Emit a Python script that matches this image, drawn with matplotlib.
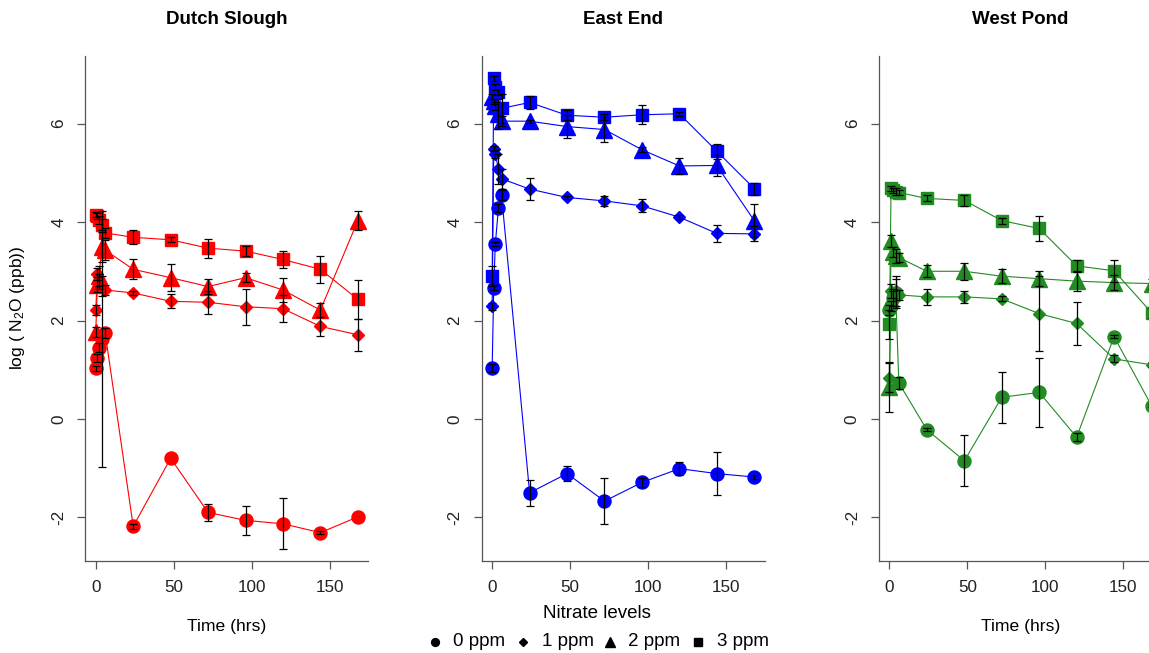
import matplotlib
matplotlib.use("Agg")
import matplotlib.pyplot as plt
from matplotlib.lines import Line2D
import numpy as np

plt.rcParams['font.family'] = ['Liberation Sans', 'DejaVu Sans']
plt.rcParams['mathtext.default'] = 'regular'

# sampling times (hrs)
times = [0, 1, 2, 4, 6, 24, 48, 72, 96, 120, 144, 168]

sites = ["Dutch Slough", "East End", "West Pond"]
site_colors = ["#FF0000", "#0000FF", "#228B22"]
levels = ["0 ppm", "1 ppm", "2 ppm", "3 ppm"]

# log(N2O) means, one list per nitrate level, per site
ds_0 = [1.03, 1.24, 1.45, 1.62, 1.75, -2.18, -0.80, -1.90, -2.06, -2.13, -2.31, -1.99]
ds_1 = [2.21, 2.94, 2.80, 2.70, 2.62, 2.56, 2.39, 2.37, 2.28, 2.24, 1.88, 1.71]
ds_2 = [1.76, 2.73, 2.90, 3.49, 3.43, 3.04, 2.87, 2.69, 2.87, 2.62, 2.21, 4.03]
ds_3 = [4.15, 4.12, 4.05, 3.95, 3.78, 3.69, 3.64, 3.47, 3.41, 3.24, 3.04, 2.43]

ee_0 = [1.04, 2.67, 3.55, 4.28, 4.55, -1.50, -1.11, -1.67, -1.29, -1.01, -1.11, -1.18]
ee_1 = [2.29, 5.49, 5.39, 5.08, 4.88, 4.67, 4.50, 4.43, 4.33, 4.10, 3.77, 3.76]
ee_2 = [6.55, 6.45, 6.35, 6.20, 6.05, 6.05, 5.94, 5.88, 5.47, 5.14, 5.15, 4.03]
ee_3 = [2.90, 6.92, 6.75, 6.65, 6.31, 6.43, 6.17, 6.13, 6.18, 6.20, 5.44, 4.68]

wp_0 = [2.22, 2.30, 2.45, 2.55, 0.73, -0.22, -0.85, 0.44, 0.54, -0.37, 1.67, 0.27]
wp_1 = [0.84, 2.60, 2.55, 2.60, 2.52, 2.48, 2.48, 2.44, 2.14, 1.94, 1.22, 1.10]
wp_2 = [0.65, 3.62, 3.40, 3.31, 3.28, 3.00, 3.00, 2.90, 2.85, 2.80, 2.77, 2.75]
wp_3 = [1.92, 4.69, 4.65, 4.62, 4.60, 4.48, 4.44, 4.03, 3.87, 3.11, 3.01, 2.16]

# standard errors
ds_0_se = [0.05, 0.08, 0.10, 2.60, 0.10, 0.05, 0.00, 0.17, 0.29, 0.52, 0.03, 0.00]
ds_1_se = [0.10, 0.12, 0.15, 0.20, 0.10, 0.04, 0.14, 0.23, 0.37, 0.27, 0.20, 0.32]
ds_2_se = [0.10, 0.15, 0.20, 0.30, 0.20, 0.20, 0.28, 0.15, 0.09, 0.24, 0.14, 0.19]
ds_3_se = [0.05, 0.06, 0.08, 0.12, 0.10, 0.14, 0.05, 0.19, 0.10, 0.18, 0.28, 0.40]

ee_0_se = [0.08, 0.06, 0.04, 0.08, 0.10, 0.26, 0.15, 0.47, 0.10, 0.13, 0.44, 0.04]
ee_1_se = [0.07, 0.05, 0.08, 0.30, 0.20, 0.22, 0.03, 0.10, 0.13, 0.04, 0.18, 0.15]
ee_2_se = [0.05, 0.05, 0.08, 0.30, 0.10, 0.03, 0.23, 0.26, 0.05, 0.17, 0.21, 0.33]
ee_3_se = [0.20, 0.05, 0.06, 0.06, 0.30, 0.14, 0.10, 0.06, 0.19, 0.04, 0.15, 0.12]

wp_0_se = [0.10, 0.10, 0.15, 0.30, 0.12, 0.03, 0.52, 0.52, 0.70, 0.08, 0.03, 0.03]
wp_1_se = [0.30, 0.15, 0.10, 0.30, 0.10, 0.17, 0.12, 0.05, 0.76, 0.44, 0.07, 0.05]
wp_2_se = [0.50, 0.12, 0.10, 0.15, 0.10, 0.12, 0.17, 0.14, 0.15, 0.21, 0.15, 0.10]
wp_3_se = [0.30, 0.05, 0.05, 0.08, 0.05, 0.06, 0.12, 0.06, 0.25, 0.12, 0.22, 0.10]

site_means = [[ds_0, ds_1, ds_2, ds_3], [ee_0, ee_1, ee_2, ee_3], [wp_0, wp_1, wp_2, wp_3]]
site_ses = [[ds_0_se, ds_1_se, ds_2_se, ds_3_se], [ee_0_se, ee_1_se, ee_2_se, ee_3_se],
            [wp_0_se, wp_1_se, wp_2_se, wp_3_se]]

# marker per nitrate level: (marker, size)
level_markers = [("o", 9.4), ("D", 6.2), ("^", 11.0), ("s", 9.2)]

W, H = 1149, 653
fig = plt.figure(figsize=(W / 100, H / 100), dpi=100)
fig.patch.set_facecolor("white")

ax_lefts = [85.3, 481.7, 879.0]
ax_w, ax_top, ax_bot = 283.0, 55.7, 560.7
axis_grey = "#555555"

for i, site in enumerate(sites):
    ax = fig.add_axes([ax_lefts[i] / W, (H - ax_bot) / H, ax_w / W, (ax_bot - ax_top) / H])
    col = site_colors[i]
    t = np.array(times, dtype=float)
    for k, (mk, ms) in enumerate(level_markers):
        y = np.array(site_means[i][k])
        ax.plot(t, y, color=col, lw=0.8, marker=mk, ms=ms, mec=col, mfc=col, zorder=2)
    for k in range(4):
        y = np.array(site_means[i][k])
        se = np.array(site_ses[i][k])
        m = se > 0
        ax.errorbar(t[m], y[m], yerr=se[m], fmt="none", ecolor="black", elinewidth=0.9,
                    capsize=2.6, capthick=0.9, zorder=4)

    # R style axis ranges (data range + 4%)
    ax.set_xlim(-168 * 0.04, 168 * 1.04)
    ax.set_ylim(-2.5 - 9.5 * 0.04, 7 + 9.5 * 0.04)
    ax.set_xticks([0, 50, 100, 150])
    ax.set_yticks([-2, 0, 2, 4, 6])
    ax.set_yticklabels(["-2", "0", "2", "4", "6"], rotation=90, va="center")
    ax.tick_params(direction="out", length=5.8, width=0.9, color=axis_grey,
                   labelsize=12.3, pad=8, labelcolor="#222222")
    for s in ["top", "right"]:
        ax.spines[s].set_visible(False)
    for s in ["left", "bottom"]:
        ax.spines[s].set_color(axis_grey)
        ax.spines[s].set_linewidth(0.9)
    ax.patch.set_alpha(0)

    cx = (ax_lefts[i] + ax_w / 2) / W
    fig.text(cx, 1 - 20 / H, site, ha="center", va="center", fontsize=13.5, fontweight="bold")
    if i != 1:
        fig.text(cx, 1 - 626 / H, "Time (hrs)", ha="center", va="center", fontsize=12.6)

fig.text(18 / W, 1 - 308 / H, "log ( N$_2$O (ppb))", rotation=90, ha="center", va="center",
         fontsize=12.5)

# legend below the middle panel
fig.text(597 / W, 1 - 613 / H, "Nitrate levels", ha="center", va="center", fontsize=13.5)
leg_sym_x = [435, 523, 610, 698]
leg_txt_x = [453, 542, 628, 717]
leg_y = 1 - 642 / H
for k, (mk, ms) in enumerate(level_markers):
    fig.add_artist(Line2D([leg_sym_x[k] / W], [leg_y], marker=mk, ms=ms * 0.6, color="black",
                          lw=0, transform=fig.transFigure))
    fig.text(leg_txt_x[k] / W, leg_y, levels[k], ha="left", va="center", fontsize=13.5)

fig.savefig("out.png", dpi=100, facecolor="white")
